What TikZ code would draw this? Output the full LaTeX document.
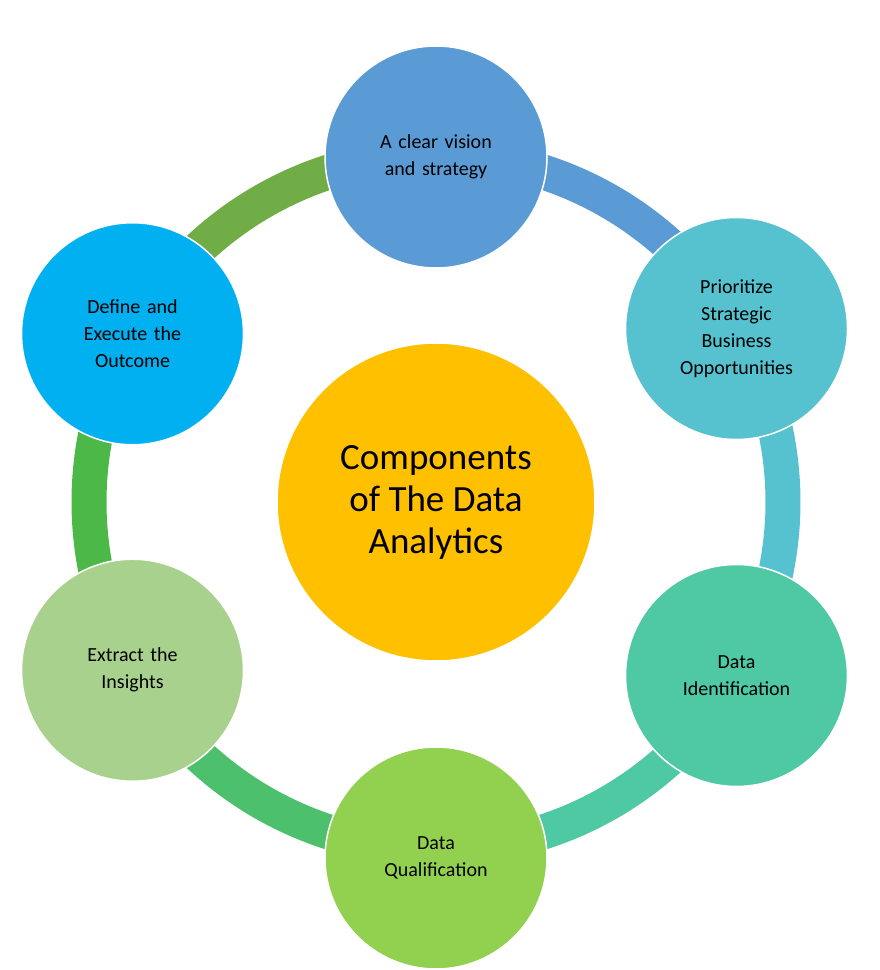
\documentclass[tikz,border=0pt]{standalone}
\usepackage{fontspec}
\setmainfont{Carlito}
\usetikzlibrary{calc}
\definecolor{cTop}{HTML}{5B9BD5}
\definecolor{cUR}{HTML}{56C2CF}
\definecolor{cLR}{HTML}{4FC8A4}
\definecolor{cBot}{HTML}{92D050}
\definecolor{cLL}{HTML}{A9D18E}
\definecolor{cUL}{HTML}{00B0F0}
\definecolor{cCen}{HTML}{FFC000}
\definecolor{aBL}{HTML}{4CC06C}
\definecolor{aL}{HTML}{4CB848}
\definecolor{aUL}{HTML}{70AD47}
\begin{document}
\begin{tikzpicture}[x=1pt,y=1pt,
  outer/.style={circle,minimum size=222pt,inner sep=0pt,draw=white,line width=1.5pt,align=center,font=\fontsize{20}{27}\selectfont,text width=150pt},
  ring/.style={line width=35pt}]
\useasboundingbox (0,0) rectangle (880,970);
\coordinate (c) at (436,468);
\foreach \a/\b/\col in {90/30/cTop,30/-30/cUR,-30/-90/cLR,-90/-150/aBL,-150/-210/aL,150/90/aUL}
  \draw[ring,\col] ($(c)+(\a:347)$) arc (\a:\b:347);
\node[outer,fill=cTop] (n1) at ($(c)+(90:345)$) {A clear vision\\and strategy};
\node[outer,fill=cUR] (n2) at ($(c)+(30:347)$) {Prioritize\\Strategic\\Business\\Opportunities};
\node[outer,fill=cLR] (n3) at ($(c)+(-30:347)$) {Data\\Identification};
\node[outer,fill=cBot] (n4) at ($(c)+(-90:356)$) {Data\\Qualification};
\node[outer,fill=cLL] (n5) at ($(c)+(-151:347)$) {Extract the\\Insights};
\node[outer,fill=cUL] (n6) at ($(c)+(151:347)$) {Define and\\Execute the\\Outcome};
\node[circle,minimum size=318pt,fill=cCen,draw=white,line width=1.5pt,align=center,font=\fontsize{37}{42}\selectfont] (cen) at (c) {Components\\of The Data\\Analytics};
\end{tikzpicture}
\end{document}
